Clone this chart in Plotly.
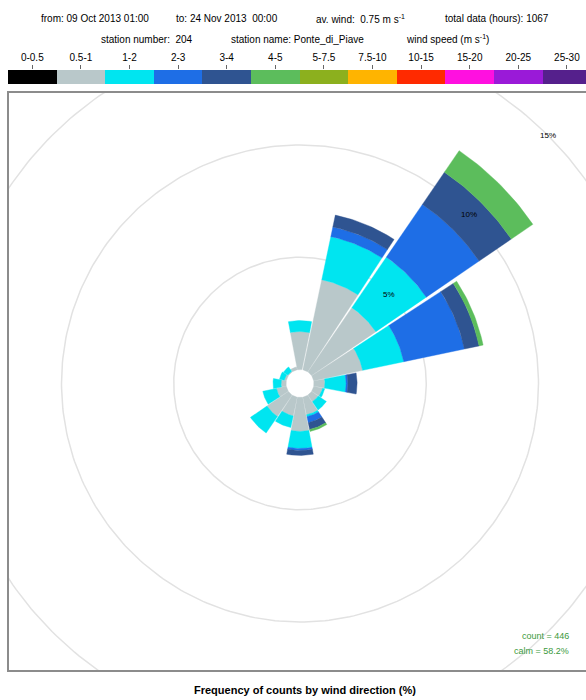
import numpy as np
import plotly.graph_objects as go

# ---------------- data ----------------
directions = ["N", "NNE", "NE", "ENE", "E", "ESE", "SE", "SSE",
              "S", "SSW", "SW", "WSW", "W", "WNW", "NW", "NNW"]
speed_bins = ["0-0.5", "0.5-1", "1-2", "2-3", "3-4", "4-5",
              "5-7.5", "7.5-10", "10-15", "15-20", "20-25", "25-30"]
bin_colors = ["#000000", "#b9c8ca", "#00e5f0", "#1e6ee6", "#2f5491", "#5cbd5c",
              "#8cb01e", "#ffb400", "#ff2a00", "#ff10e0", "#9a1ad8", "#55208c"]

# frequency (% of all hours) per direction sector, one list per speed bin
freq_0_05 = [0.0] * 16
freq_05_1 = [1.69, 4.10, 3.47, 2.23, 0.49, 0.40, 0.36, 0.80,
             1.51, 0.85, 1.16, 0.45, 0.22, 0.09, 0.04, 0.13]
freq_1_2 = [0.49, 1.96, 2.72, 1.87, 0.94, 0.10, 0.44, 0.09,
            0.76, 0.53, 0.89, 0.62, 0.36, 0.22, 0.23, 0.00]
freq_2_3 = [0.00, 0.44, 2.85, 2.76, 0.08, 0.00, 0.00, 0.27,
            0.09, 0.00, 0.00, 0.00, 0.00, 0.00, 0.00, 0.00]
freq_3_4 = [0.00, 0.54, 1.74, 0.67, 0.41, 0.00, 0.00, 0.31,
            0.22, 0.00, 0.00, 0.00, 0.00, 0.00, 0.00, 0.00]
freq_4_5 = [0.00, 0.00, 1.16, 0.18, 0.00, 0.00, 0.00, 0.09,
            0.00, 0.00, 0.00, 0.00, 0.00, 0.00, 0.00, 0.00]
freq_by_bin = [freq_0_05, freq_05_1, freq_1_2, freq_2_3, freq_3_4, freq_4_5]

grid_levels = [5, 10, 15]
count_total = 446
calm_pct = 58.2

header_line1 = [
    ("from: 09 Oct 2013 01:00", 39),
    ("to: 24 Nov 2013  00:00", 174),
    ("av. wind:  0.75 m s<sup>-1</sup>", 314),
    ("total data (hours): 1067", 443),
]
header_line2 = [
    ("station number:  204", 99),
    ("station name: Ponte_di_Piave", 229),
    ("wind speed (m s<sup>-1</sup>)", 404),
]

# ---------------- geometry ----------------
W, H = 586, 700
PX_PER_PCT = 22.45          # radial scale, pixels per percent
HOLE = 14 / PX_PER_PCT      # central hole, in percent units
CX, CY = 300, 383.5         # rose centre (pixels)
PANEL = dict(left=8, top=92, bottom=671)
SECTOR = 360 / len(directions)
GAP = 0.6                   # angular gap each side of a petal (deg)

xr = [(PANEL["left"] - CX) / PX_PER_PCT, (W - CX) / PX_PER_PCT]
yr = [-(PANEL["bottom"] - CY) / PX_PER_PCT, (CY - PANEL["top"]) / PX_PER_PCT]

FONT = "Liberation Sans, Arial, sans-serif"
fig = go.Figure()


def arc(r, t0, t1, n=24):
    t = np.radians(np.linspace(t0, t1, n))
    return r * np.sin(t), r * np.cos(t)


# grid circles
for lv in grid_levels:
    gx, gy = arc(HOLE + lv, 0, 360, 361)
    fig.add_trace(go.Scatter(x=gx, y=gy, mode="lines",
                             line=dict(color="#e2e2e2", width=1.5),
                             hoverinfo="skip", showlegend=False))

# stacked petals
cum = np.zeros(len(directions))
for b, vals in enumerate(freq_by_bin):
    xs, ys = [], []
    for i, v in enumerate(vals):
        if v <= 0:
            continue
        d = i * SECTOR
        t0, t1 = d - SECTOR / 2 + GAP, d + SECTOR / 2 - GAP
        r_in, r_out = HOLE + cum[i], HOLE + cum[i] + v
        ox, oy = arc(r_out, t0, t1)
        ix, iy = arc(r_in, t1, t0)
        xs += list(ox) + list(ix) + [ox[0], None]
        ys += list(oy) + list(iy) + [oy[0], None]
    cum += np.array(vals)
    if xs:
        fig.add_trace(go.Scatter(x=xs, y=ys, mode="lines", fill="toself",
                                 fillcolor=bin_colors[b],
                                 line=dict(color=bin_colors[b], width=0.4),
                                 hoverinfo="skip", showlegend=False))

# grid labels along the 45 degree line
for lv in grid_levels:
    r = HOLE + lv
    fig.add_annotation(x=r * np.sin(np.radians(45)), y=r * np.cos(np.radians(45)),
                       xref="x", yref="y", text=f"{lv}%", showarrow=False,
                       font=dict(family=FONT, size=8, color="#000000"))

# speed key as a strip of bars
fig.add_trace(go.Bar(x=speed_bins, y=[1] * len(speed_bins),
                     marker=dict(color=bin_colors, line=dict(width=0)),
                     width=1, xaxis="x2", yaxis="y2",
                     hoverinfo="skip", showlegend=False))

key_w = 48.6
fig.update_layout(
    width=W, height=H,
    margin=dict(l=0, r=0, t=0, b=0),
    paper_bgcolor="white", plot_bgcolor="white",
    bargap=0,
    xaxis=dict(domain=[PANEL["left"] / W, 1], range=xr, visible=False, fixedrange=True),
    yaxis=dict(domain=[1 - PANEL["bottom"] / H, 1 - PANEL["top"] / H], range=yr,
               visible=False, fixedrange=True),
    xaxis2=dict(domain=[8 / W, 1], anchor="y2", side="top",
                range=[-0.5, -0.5 + (W - 8) / key_w],
                ticks="outside", ticklen=4, tickcolor="#666666", tickwidth=1,
                tickfont=dict(family=FONT, size=10, color="#000000"),
                showgrid=False, showline=False, zeroline=False, fixedrange=True),
    yaxis2=dict(domain=[1 - 84 / H, 1 - 70 / H], anchor="x2", range=[0, 1],
                visible=False, fixedrange=True),
)

# panel border
fig.add_shape(type="rect", xref="paper", yref="paper",
              x0=PANEL["left"] / W, x1=1.05,
              y0=1 - PANEL["bottom"] / H, y1=1 - PANEL["top"] / H,
              line=dict(color="#8c8c8c", width=2), layer="above")

# header lines
for txt, xpix in header_line1:
    fig.add_annotation(x=xpix / W, y=1 - 19 / H, xref="paper", yref="paper",
                       xanchor="left", yanchor="middle", text=txt, showarrow=False,
                       font=dict(family=FONT, size=10, color="#000000"))
for txt, xpix in header_line2:
    fig.add_annotation(x=xpix / W, y=1 - 39 / H, xref="paper", yref="paper",
                       xanchor="left", yanchor="middle", text=txt, showarrow=False,
                       font=dict(family=FONT, size=10, color="#000000"))

# count / calm
fig.add_annotation(x=571 / W, y=1 - 636 / H, xref="paper", yref="paper",
                   xanchor="right", yanchor="middle", text=f"count = {count_total}",
                   showarrow=False, font=dict(family=FONT, size=9, color="#3c9a3c"))
fig.add_annotation(x=571 / W, y=1 - 651 / H, xref="paper", yref="paper",
                   xanchor="right", yanchor="middle", text=f"calm = {calm_pct}%",
                   showarrow=False, font=dict(family=FONT, size=9, color="#3c9a3c"))

# bottom title
fig.add_annotation(x=305 / W, y=1 - 690 / H, xref="paper", yref="paper",
                   xanchor="center", yanchor="middle",
                   text="<b>Frequency of counts by wind direction (%)</b>",
                   showarrow=False, font=dict(family=FONT, size=11, color="#000000"))

fig.write_html("out.html")
